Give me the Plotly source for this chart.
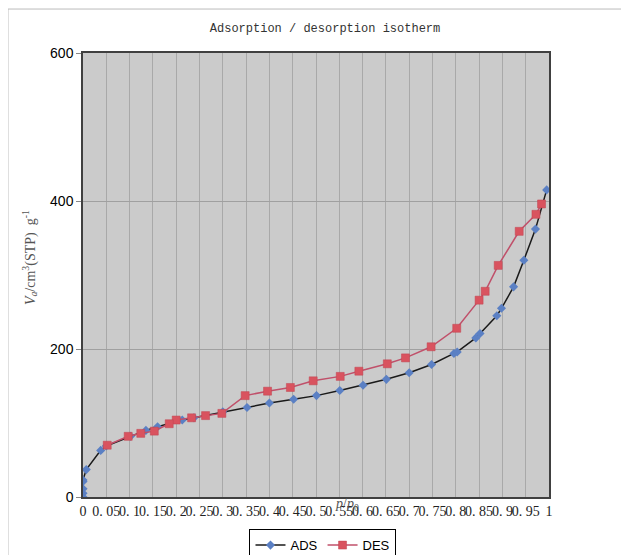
import plotly.graph_objects as go

# dados
ADS_P = [0, 0, 0, 0, 0, 0.007, 0.038, 0.05, 0.102, 0.135, 0.16, 0.213, 0.238,
         0.30, 0.352, 0.40, 0.452, 0.501, 0.551, 0.601, 0.651, 0.70, 0.748,
         0.796, 0.803, 0.843, 0.852, 0.888, 0.898, 0.924, 0.946, 0.971, 0.995]
ADS_V = [0, 5, 11, 21, 23, 37, 63, 69, 82, 90, 95, 104, 107,
         115, 121, 127, 132, 137, 144, 151, 159, 168, 179,
         194, 196, 215, 221, 245, 255, 284, 320, 362, 415]

DES_P = [0.984, 0.972, 0.936, 0.891, 0.863, 0.85, 0.802, 0.747, 0.692, 0.653,
         0.592, 0.552, 0.494, 0.445, 0.396, 0.348, 0.298, 0.263, 0.233, 0.2,
         0.185, 0.153, 0.124, 0.097, 0.052]
DES_V = [396, 382, 359, 313, 278, 266, 228, 203, 188, 180,
         170, 163, 157, 148, 143, 137, 113, 110, 107, 104,
         99, 89, 86, 82, 70]

X_TICKS = [i * 0.05 for i in range(21)]
X_LABELS = ["0", "0. 05", "0. 1", "0. 15", "0. 2", "0. 25", "0. 3", "0. 35",
            "0. 4", "0. 45", "0. 5", "0. 55", "0. 6", "0. 65", "0. 7", "0. 75",
            "0. 8", "0. 85", "0. 9", "0. 95", "1"]
Y_TICKS = [0, 200, 400, 600]

SERIF = "Liberation Serif, serif"
SANS = "Liberation Sans, Arial, sans-serif"

fig = go.Figure()

fig.add_trace(go.Scatter(
    x=ADS_P, y=ADS_V, mode="lines+markers", name="ADS",
    line=dict(color="#1a1a1a", width=1.5),
    marker=dict(symbol="diamond", size=7, color="#5b80c4"),
))
fig.add_trace(go.Scatter(
    x=DES_P, y=DES_V, mode="lines+markers", name="DES",
    line=dict(color="#c0506a", width=1.5),
    marker=dict(symbol="square", size=8, color="#d9535f",
                line=dict(color="#c04450", width=0.5)),
))

# a pagina tem 8px de margem no body, por isso as margens vem descontadas
fig.update_layout(
    width=629, height=555,
    margin=dict(l=75, r=88, t=45, b=66),
    paper_bgcolor="white",
    plot_bgcolor="#cbcbcb",
    title=dict(text="Adsorption / desorption isotherm", x=0.504, xanchor="center",
               yref="container", y=0.964, yanchor="middle",
               font=dict(family="Liberation Mono, monospace", size=12, color="#333333")),
    showlegend=True,
    legend=dict(orientation="h", x=0.515, xanchor="center",
                yref="container", y=0.061, yanchor="top",
                bgcolor="white", bordercolor="#000000", borderwidth=1,
                font=dict(family=SANS, size=13, color="#000000")),
)

fig.update_xaxes(
    range=[0, 1], tickvals=X_TICKS, ticktext=X_LABELS, tickangle=0,
    tickfont=dict(family=SERIF, size=14, color="#222222"),
    showgrid=True, gridcolor="#a9a9a9", gridwidth=1,
    zeroline=False, showline=True, linecolor="#404040", linewidth=1.5, mirror=True,
    ticks="", fixedrange=True, automargin=False,
)
fig.update_yaxes(
    range=[0, 600], tickvals=Y_TICKS,
    tickfont=dict(family=SANS, size=14, color="#000000"),
    showgrid=True, gridcolor="#a0a0a0", gridwidth=1,
    zeroline=False, showline=True, linecolor="#404040", linewidth=1.5, mirror=True,
    ticks="outside", ticklen=5, tickcolor="#888888", automargin=False,
)

fig.add_annotation(
    text="<i>V</i><sub><i>a</i></sub>/cm<sup>3</sup>(STP)  g<sup>-1</sup>",
    xref="paper", yref="paper", x=-0.114, y=0.54, textangle=-90,
    xanchor="center", yanchor="middle",
    showarrow=False, font=dict(family=SERIF, size=14, color="#555555"),
)
fig.add_annotation(
    text="<i>p</i>/<i>p</i><sub>0</sub>",
    xref="paper", yref="paper", x=0.567, y=-0.018,
    xanchor="center", yanchor="middle",
    showarrow=False, font=dict(family=SERIF, size=14, color="#555555"),
)

fig.add_shape(type="rect", xref="paper", yref="paper",
              x0=-0.161, x1=1.25, y0=-0.3, y1=1.099,
              line=dict(color="#bbbbbb", width=1), layer="below")

fig.write_html("out.html")
